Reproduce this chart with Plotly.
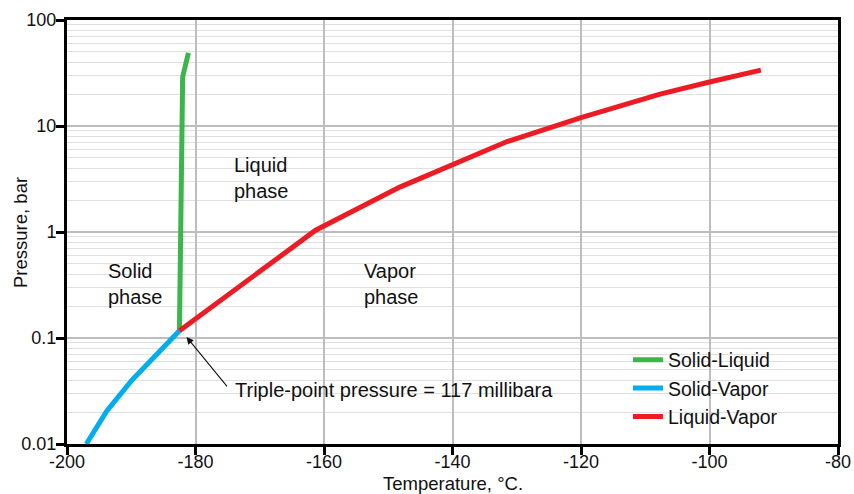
import plotly.graph_objects as go

# ---- data (methane phase diagram) ----
sl_temp = [-182.5, -182.3, -182.2, -182.0, -181.1]
sl_pres = [0.117, 1.0, 7.0, 29.0, 49.0]

sv_temp = [-197.0, -193.8, -189.9, -185.5, -182.5]
sv_pres = [0.010, 0.0205, 0.040, 0.077, 0.117]

lv_temp = [-182.5, -161.3, -148.2, -140.0, -131.6, -120.0, -107.7, -100.0, -92.0]
lv_pres = [0.117, 1.04, 2.65, 4.3, 7.1, 12.0, 20.0, 26.0, 33.7]

series_names = ["Solid-Liquid", "Solid-Vapor", "Liquid-Vapor"]
series_colors = ["#3CB54A", "#00AEEF", "#ED1C24"]

x_ticks = [-200, -180, -160, -140, -120, -100, -80]
y_ticks = [0.01, 0.1, 1, 10, 100]
y_tick_text = ["0.01", "0.1", "1", "10", "100"]

FONT = "Liberation Sans, Arial, Helvetica, sans-serif"
TXT = "#111111"

fig = go.Figure()
for name, color, xs, ys in zip(series_names, series_colors,
                               [sl_temp, sv_temp, lv_temp],
                               [sl_pres, sv_pres, lv_pres]):
    fig.add_trace(go.Scatter(x=xs, y=ys, mode="lines", name=name,
                             line=dict(color=color, width=5)))

# white area behind legend (covers gridlines)
fig.add_shape(type="rect", xref="x", yref="y", x0=-119.7, x1=-80, y0=-2, y1=-1.02,
              fillcolor="white", line=dict(width=0), layer="between")

ann_font = dict(family=FONT, size=20, color=TXT)
fig.add_annotation(x=-193.9, y=-0.49, xref="x", yref="y", text="Solid<br>phase",
                   showarrow=False, xanchor="left", yanchor="middle", align="left", font=ann_font)
fig.add_annotation(x=-174.3, y=0.51, xref="x", yref="y", text="Liquid<br>phase",
                   showarrow=False, xanchor="left", yanchor="middle", align="left", font=ann_font)
fig.add_annotation(x=-154.1, y=-0.49, xref="x", yref="y", text="Vapor<br>phase",
                   showarrow=False, xanchor="left", yanchor="middle", align="left", font=ann_font)
fig.add_annotation(x=-174.2, y=-1.49, xref="x", yref="y",
                   text="Triple-point pressure = 117 millibara",
                   showarrow=False, xanchor="left", yanchor="middle", font=ann_font)
fig.add_annotation(x=-181.4, y=-0.99, xref="x", yref="y", ax=-174.9, ay=-1.47,
                   axref="x", ayref="y", text="", showarrow=True,
                   arrowhead=2, arrowsize=1.3, arrowwidth=1.1, arrowcolor=TXT, standoff=0)

# axis titles
title_font = dict(family=FONT, size=18.5, color=TXT)
fig.add_annotation(x=-0.061, y=0.5, xref="paper", yref="paper", text="Pressure, bar",
                   textangle=-90, showarrow=False, xanchor="center", yanchor="middle", font=title_font)
fig.add_annotation(x=0.5, y=-0.092, xref="paper", yref="paper", text="Temperature, °C.",
                   showarrow=False, xanchor="center", yanchor="middle", font=title_font)

fig.update_layout(
    width=854, height=494,
    margin=dict(l=67, r=16, t=20, b=50),
    paper_bgcolor="white", plot_bgcolor="white",
    font=dict(family=FONT, color=TXT),
    showlegend=True,
    legend=dict(x=0.7276, y=0.244, xanchor="left", yanchor="top",
                bgcolor="rgba(0,0,0,0)", borderwidth=0,
                font=dict(family=FONT, size=19.5, color=TXT),
                itemwidth=30, tracegroupgap=0),
)
fig.update_xaxes(
    range=[-200, -80], tickvals=x_ticks, ticktext=[str(v) for v in x_ticks],
    showgrid=True, gridcolor="#BDBDBD", gridwidth=2.3,
    showline=True, linecolor="black", linewidth=3, mirror=True,
    ticks="outside", ticklen=8, tickwidth=2.5, tickcolor="black",
    tickfont=dict(family=FONT, size=18, color=TXT), ticklabelstandoff=-9,
    automargin=False, zeroline=False,
)
fig.update_yaxes(
    type="log", range=[-2, 2], tickvals=y_ticks, ticktext=y_tick_text,
    showgrid=True, gridcolor="#BDBDBD", gridwidth=2.3,
    minor=dict(dtick="D1", showgrid=True, gridcolor="#E0E0E0", gridwidth=1.4, ticks=""),
    showline=True, linecolor="black", linewidth=3, mirror=True,
    ticks="outside", ticklen=8, tickwidth=2.5, tickcolor="black",
    tickfont=dict(family=FONT, size=18, color=TXT), ticklabelstandoff=-4,
    automargin=False, zeroline=False,
)

fig.write_html("out.html")
